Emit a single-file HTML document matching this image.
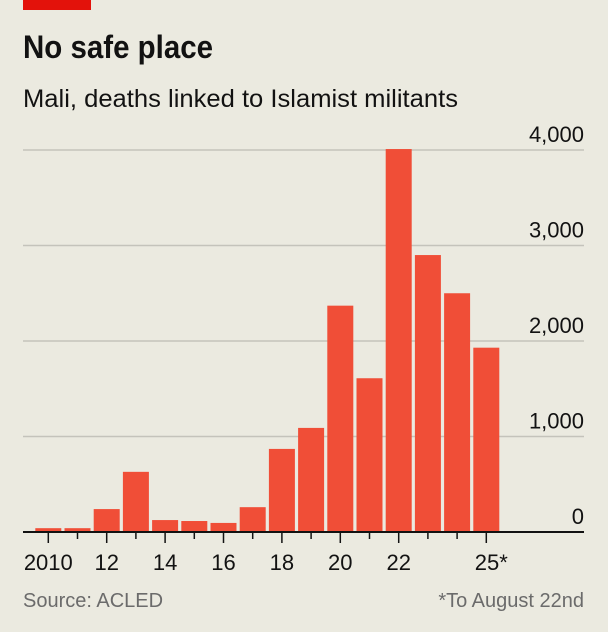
<!DOCTYPE html>
<html><head><meta charset="utf-8">
<style>
html,body{margin:0;padding:0;background:#ebeae0;}
svg text{font-family:"Liberation Sans Narrow","Liberation Sans",sans-serif;}
</style></head>
<body>
<svg width="608" height="627" viewBox="0 0 608 627" xmlns="http://www.w3.org/2000/svg">
<rect x="0" y="0" width="608" height="627" fill="#ebeae0"/>
<rect x="23" y="0" width="68" height="10" fill="#e3120b"/>
<text x="23" y="58" font-size="32" font-weight="bold" fill="#121212" textLength="190" lengthAdjust="spacingAndGlyphs">No safe place</text>
<text x="23" y="107" font-size="25" fill="#121212" textLength="435" lengthAdjust="spacingAndGlyphs">Mali, deaths linked to Islamist militants</text>
<g id="grid"></g>
<g id="bars"></g>
<g id="xaxis"></g>
<text x="23" y="607" font-size="20" fill="#6b6b6b">Source: ACLED</text>
<text x="584" y="607" font-size="20" fill="#6b6b6b" text-anchor="end">*To August 22nd</text>
</svg>
<script>
const years = [2010,2011,2012,2013,2014,2015,2016,2017,2018,2019,2020,2021,2022,2023,2024,2025];
const deaths = [40,40,240,630,125,115,95,260,870,1090,2370,1610,4010,2900,2500,1930];
const yTicks = [0,1000,2000,3000,4000];
const yTickLabels = ["0","1,000","2,000","3,000","4,000"];
const xLabelYears = [2010,2012,2014,2016,2018,2020,2022,2025];
const xLabels = ["2010","12","14","16","18","20","22","25*"];

const NS="http://www.w3.org/2000/svg";
const y0=532, yTop=150, vMax=4000;
const y=v=>y0-(v/vMax)*(y0-yTop);
const step=29.2, x0=48.3;
const xc=yr=>x0+(yr-2010)*step;
const bw=26;
function mk(tag,attrs,parent){const e=document.createElementNS(NS,tag);for(const k in attrs)e.setAttribute(k,attrs[k]);parent.appendChild(e);return e;}
const grid=document.getElementById('grid'),bars=document.getElementById('bars'),xa=document.getElementById('xaxis');
yTicks.forEach((t,i)=>{
  if(t>0){const l=mk('line',{x1:23,x2:584,y1:y(t),y2:y(t),stroke:'#c4c3bb','stroke-width':1.5},grid);
  
  }
  const tx=mk('text',{x:584,y:y(t)-8,'font-size':22,fill:'#121212','text-anchor':'end'},grid);
  tx.textContent=yTickLabels[i];
  
  
});
years.forEach((yr,i)=>{
  const r=mk('rect',{x:xc(yr)-bw/2,y:y(deaths[i]),width:bw,height:y0-y(deaths[i]),fill:'#f04e37'},bars);
  
  
  const tk=mk('line',{x1:xc(yr),x2:xc(yr),y1:y0,y2:(xLabelYears.includes(yr)?543:539),stroke:'#121212','stroke-width':1.5},xa);
  
  
});
const base=mk('line',{x1:23,x2:584,y1:y0,y2:y0,stroke:'#121212','stroke-width':2},xa);


xLabelYears.forEach((yr,i)=>{
  const tx=mk('text',{x:xc(yr)+(xLabels[i].endsWith('*')?5:0),y:570,'font-size':22,fill:'#121212','text-anchor':'middle'},xa);
  tx.textContent=xLabels[i];
  
  
});
</script>
</body></html>
